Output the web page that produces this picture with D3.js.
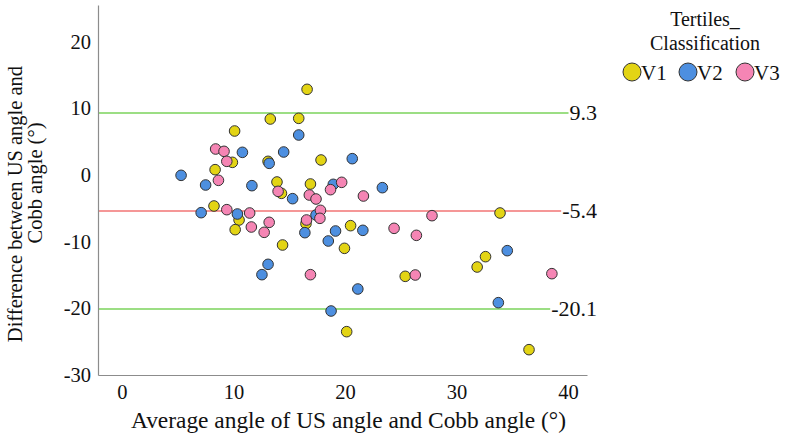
<!DOCTYPE html>
<html>
<head>
<meta charset="utf-8">
<script src="https://cdn.jsdelivr.net/npm/d3@7"></script>
<style>
  body { margin: 0; background: #fff; }
  svg text { font-family: "Liberation Serif", "Times New Roman", serif; fill: #111; }
</style>
</head>
<body>
<div id="chart"></div>
<script>
// tertile groups, values: [average angle, difference]
const v1 = [[16.6,12.85],[13.3,8.4],[15.85,8.5],[10.1,6.6],[9.9,1.9],[17.85,2.25],[13.1,2.05],[8.35,0.8],
  [13.9,-1.05],[16.9,-1.35],[14.3,-2.75],[8.25,-4.65],[10.5,-6.75],[10.15,-8.2],[14.4,-10.5],[16.5,-7.3],
  [19.95,-11.0],[20.5,-7.6],[20.15,-23.5],[33.9,-5.7],[25.4,-15.2],[31.85,-13.8],[32.6,-12.25],[36.5,-26.2]];
const v2 = [[15.85,6.0],[10.8,3.4],[14.5,3.45],[13.2,1.75],[5.3,-0.05],[7.5,-1.5],[11.65,-1.6],[15.3,-3.55],
  [18.95,-1.4],[20.65,2.45],[23.35,-1.9],[7.1,-5.65],[10.35,-5.85],[13.1,-13.4],[12.55,-14.95],[16.4,-8.65],
  [17.4,-6.0],[19.15,-8.4],[18.5,-9.9],[18.75,-20.4],[21.6,-8.3],[21.15,-17.1],[34.55,-11.35],[33.75,-19.15]];
const v3 = [[8.4,3.9],[9.15,3.55],[9.4,2.05],[8.65,-0.8],[14.0,-2.45],[16.8,-3.0],[17.4,-3.6],[19.7,-1.1],
  [18.7,-2.2],[21.65,-3.15],[9.4,-5.2],[11.45,-5.7],[11.6,-7.8],[13.2,-7.1],[12.75,-8.6],[16.9,-14.95],
  [16.55,-6.75],[17.8,-5.3],[17.75,-6.5],[24.4,-8.0],[26.4,-9.05],[27.8,-6.1],[26.3,-15.0],[38.55,-14.8]];

const groups = ["V1", "V2", "V3"];
const groupColors = ["#e3d414", "#4d8fe0", "#f585b4"];
const xTicks = [0, 10, 20, 30, 40];
const yTicks = [-30, -20, -10, 0, 10, 20];
const refValues = [9.3, -5.4, -20.1];
const refLabels = ["9.3", "-5.4", "-20.1"];
const refColors = ["#7bd35b", "#f27474", "#7bd35b"];

const W = 786, H = 448;
const FONT = '"Liberation Serif", "Times New Roman", serif';
const svg = d3.select("#chart").append("svg").attr("width", W).attr("height", H);

const x = d3.scaleLinear().domain([-2.15, 41.7]).range([98, 587]);
const y = d3.scaleLinear().domain([-30, 25.5]).range([375, 5]);

// axes (plain hyphen for negatives, like the original)
const xAxis = svg.append("g").attr("transform", `translate(0,${y(-30)})`)
  .call(d3.axisBottom(x).tickValues(xTicks).tickFormat(d => String(d)).tickSize(0).tickSizeOuter(0).tickPadding(9));
const yAxis = svg.append("g").attr("transform", `translate(${x(-2.15)},0)`)
  .call(d3.axisLeft(y).tickValues(yTicks).tickFormat(d => String(d)).tickSize(0).tickSizeOuter(0).tickPadding(7));
[xAxis, yAxis].forEach(g => {
  g.attr("font-family", FONT);
  g.select(".domain").attr("stroke", "#8c8c8c").attr("stroke-width", 1.2);
  g.selectAll("text").style("font-size", "20.5px").attr("fill", "#111");
});

// reference lines with labels at the right end
const refG = svg.append("g");
refValues.forEach((v, i) => {
  const lab = refG.append("text").attr("x", 597).attr("y", y(v)).attr("dy", "0.34em")
    .attr("text-anchor", "end").style("font-size", "22px").text(refLabels[i]);
  const w = lab.node().getComputedTextLength();
  refG.append("line").attr("x1", x(-2.15) + 1).attr("x2", 597 - w - 1)
    .attr("y1", y(v)).attr("y2", y(v))
    .attr("stroke", refColors[i]).attr("stroke-width", 1.6);
});

// points
[v1, v2, v3].forEach((arr, gi) => {
  svg.append("g").selectAll("circle").data(arr).enter().append("circle")
    .attr("cx", d => x(d[0])).attr("cy", d => y(d[1])).attr("r", 5.3)
    .attr("fill", groupColors[gi]).attr("stroke", "#333").attr("stroke-width", 1);
});

// axis titles
svg.append("text").attr("x", 348.5).attr("y", 428).attr("text-anchor", "middle")
  .style("font-size", "23.4px").text("Average angle of US angle and Cobb angle (°)");
svg.append("text").attr("transform", "translate(22,204) rotate(-90)").attr("text-anchor", "middle")
  .style("font-size", "20.5px").text("Difference between US angle and");
svg.append("text").attr("transform", "translate(42,183) rotate(-90)").attr("text-anchor", "middle")
  .style("font-size", "20.5px").text("Cobb angle (°)");

// legend
svg.append("text").attr("x", 705).attr("y", 26).attr("text-anchor", "middle")
  .style("font-size", "20px").text("Tertiles_");
svg.append("text").attr("x", 705).attr("y", 50).attr("text-anchor", "middle")
  .style("font-size", "20px").text("Classification");
const legX = [632, 688, 745];
groups.forEach((g, i) => {
  svg.append("circle").attr("cx", legX[i]).attr("cy", 72).attr("r", 9)
    .attr("fill", groupColors[i]).attr("stroke", "#333").attr("stroke-width", 1);
  svg.append("text").attr("x", legX[i] + 9).attr("y", 72).attr("dy", "0.36em")
    .style("font-size", "21px").text(g);
});
</script>
</body>
</html>
